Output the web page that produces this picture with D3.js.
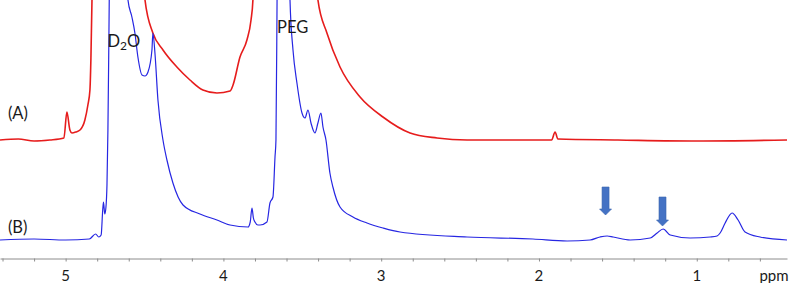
<!DOCTYPE html>
<html>
<head>
<meta charset="utf-8"/>
<title>1H NMR spectra</title>
<script src="https://d3js.org/d3.v7.min.js"></script>
<style>
  body { margin: 0; background: white; }
  svg text { font-family: Lato, "Open Sans", sans-serif; fill: #1a1a1a; }
</style>
</head>
<body>
<svg id="chart" width="800" height="283"></svg>
<script>

// spectrum (A), red trace: chemical shift (ppm) and intensity above its own baseline
var ppmA = [5.416, 5.30, 5.20, 5.10, 5.011, 4.992, 4.973, 4.960, 4.935, 4.909, 4.878, 4.859, 4.846, 4.840, 4.833, 4.82,
            4.51, 4.497, 4.447, 4.383, 4.295, 4.212, 4.130, 4.041, 3.958, 3.939, 3.895, 3.851, 3.825, 3.813, 3.80,
            3.42, 3.401, 3.344, 3.261, 3.134, 2.989, 2.817, 2.646, 2.456, 2.20, 1.92, 1.898, 1.88, 1.50, 1.00, 0.428];
var intA = [0, 1, -1, 0, 2, 28, 10, 7, 8, 10, 20, 35, 50, 80, 140, 400,
            400, 140, 107, 90, 73, 60, 50, 47, 49, 55, 83, 100, 120, 140, 400,
            400, 140, 107, 73, 43, 23, 7, 2, 0, 0, 0, 8, 1, 0, -1, 0];

// spectrum (B), blue trace
var ppmB = [5.416, 5.20, 5.00, 4.85, 4.81, 4.79, 4.775, 4.765, 4.760, 4.752, 4.745, 4.738, 4.732, 4.726, 4.72, 4.70,
            4.62, 4.605, 4.58, 4.561, 4.542, 4.516, 4.497, 4.478, 4.453, 4.447, 4.434, 4.415, 4.383, 4.358, 4.320,
            4.256, 4.149, 4.041, 3.958, 3.844, 3.83, 3.819, 3.81, 3.800, 3.781, 3.768, 3.724, 3.705, 3.686, 3.673,
            3.667, 3.660, 3.65, 3.59, 3.578, 3.559, 3.534, 3.502, 3.483, 3.464, 3.445, 3.420, 3.401, 3.382, 3.369,
            3.350, 3.325, 3.306, 3.261, 3.179, 3.090, 2.989, 2.881, 2.456, 2.038, 1.822, 1.676, 1.613, 1.568, 1.530,
            1.422, 1.295, 1.251, 1.213, 1.168, 1.042, 0.915, 0.871, 0.852, 0.820, 0.776, 0.738, 0.694, 0.599, 0.428];
var intB = [0, 1, 0, 1, 6, 3, 5, 30, 38, 26, 32, 55, 110, 200, 300, 500,
            500, 240, 223, 207, 183, 165, 164, 168, 190, 207, 187, 140, 100, 80, 57,
            35, 26, 20, 15, 13, 18, 32, 22, 18, 15, 15, 18, 37, 43, 83,
            100, 240, 500, 500, 240, 190, 157, 127, 122, 130, 117, 107, 117, 127, 113,
            100, 67, 53, 33, 23, 17, 12, 8, 3, 1, -1, 0, 3, 4, 3,
            0, 2, 7, 11, 5, 2, 3, 4, 7, 17, 27, 20, 8, 3, 0];

// vertical offset of each trace
var offsetA = 100, offsetB = 0;

// arrows pointing at the new signals in (B)
var arrowPpm = [1.578, 1.217];
var arrowTop = [53, 43];
var arrowTip = [25, 14];

var majorTicks = [5, 4, 3, 2, 1];
var minorTicks = d3.range(27, 2, -1).map(function (d) { return d / 5; });  // 5.4 .. 0.6 step 0.2

var labels = [
  { text: "(A)", ppm: 5.366, y: offsetA + 21 },
  { text: "(B)", ppm: 5.366, y: offsetB + 7 },
  { text: "PEG", ppm: 3.66, y: offsetB + 207 }
];

var svg = d3.select("#chart");
var axisY = 258.5;

var x = d3.scaleLinear().domain([5.416, 0.428]).range([0, 787]);
var y = d3.scaleLinear().domain([0, 240]).range([240, 0]);

svg.append("clipPath").attr("id", "plot")
  .append("rect").attr("x", 0).attr("y", 0).attr("width", 800).attr("height", axisY);

function trace(ppm, vals, off) {
  return d3.line()
    .x(function (d, i) { return x(ppm[i]); })
    .y(function (d, i) { return y(vals[i] + off); })
    .curve(d3.curveMonotoneX)(vals);
}

var g = svg.append("g").attr("clip-path", "url(#plot)");

g.append("path")
  .attr("d", trace(ppmA, intA, offsetA))
  .attr("fill", "none")
  .attr("stroke", "#e61c1c")
  .attr("stroke-width", 1.6);

g.append("path")
  .attr("d", trace(ppmB, intB, offsetB))
  .attr("fill", "none")
  .attr("stroke", "#2626e2")
  .attr("stroke-width", 1.2);

// block arrows
var shaftW = 3.5, headW = 6, headL = 6;
arrowPpm.forEach(function (p, i) {
  var cx = x(p), top = y(arrowTop[i] + offsetB), tip = y(arrowTip[i] + offsetB), base = tip - headL;
  var pts = [[cx - shaftW, top], [cx + shaftW, top], [cx + shaftW, base], [cx + headW, base],
             [cx, tip], [cx - headW, base], [cx - shaftW, base]];
  svg.append("polygon")
    .attr("points", pts.map(function (q) { return q.join(","); }).join(" "))
    .attr("fill", "#4472c4")
    .attr("stroke", "#3b65b0")
    .attr("stroke-width", 0.6);
});

// axis
var axis = svg.append("g").attr("transform", "translate(0," + axisY + ")");
axis.call(d3.axisBottom(x).tickValues(minorTicks).tickSize(3).tickSizeOuter(0).tickFormat(""));
axis.select(".domain").attr("stroke", "#8c8c8c");
axis.selectAll(".tick line").attr("stroke", "#8c8c8c");

axis.selectAll(".major")
  .data(majorTicks)
  .enter().append("text")
  .attr("x", function (d) { return x(d); })
  .attr("y", 22.5)
  .attr("text-anchor", "middle")
  .style("font-size", "15px")
  .text(function (d) { return d; });

axis.append("text")
  .attr("x", 774).attr("y", 22.5)
  .style("font-size", "15px")
  .text("ppm");

// trace labels
svg.selectAll(".lab")
  .data(labels)
  .enter().append("text")
  .attr("x", function (d) { return x(d.ppm); })
  .attr("y", function (d) { return y(d.y); })
  .style("font-size", "16.5px")
  .text(function (d) { return d.text; });

var d2o = svg.append("text")
  .attr("x", x(4.735))
  .attr("y", y(offsetB + 193))
  .style("font-size", "16.5px");
d2o.append("tspan").text("D");
d2o.append("tspan").attr("dy", 3).style("font-size", "12px").text("2");
d2o.append("tspan").attr("dy", -3).text("O");

</script>
</body>
</html>
